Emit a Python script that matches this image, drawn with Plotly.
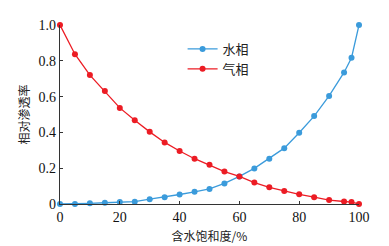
import plotly.graph_objects as go

sw = [0, 5, 10, 15, 20, 25, 30, 35, 40, 45, 50, 55, 60, 65, 70, 75, 80, 85, 90, 95, 97.5, 100]
krw = [0, 0, 0.004, 0.007, 0.011, 0.013, 0.027, 0.038, 0.053, 0.068, 0.084, 0.115, 0.154, 0.199, 0.253, 0.312, 0.398, 0.491, 0.604, 0.735, 0.817, 1.0]
krg = [1.0, 0.837, 0.72, 0.631, 0.537, 0.468, 0.403, 0.344, 0.296, 0.253, 0.219, 0.181, 0.154, 0.12, 0.093, 0.072, 0.054, 0.038, 0.022, 0.014, 0.011, 0.0]

blue = "#3b9bdb"
red = "#ec1c24"

fig = go.Figure()
fig.add_trace(go.Scatter(x=sw, y=krw, mode="lines+markers", name="水相",
                         line=dict(color=blue, width=1.3), marker=dict(color=blue, size=6),
                         cliponaxis=False))
fig.add_trace(go.Scatter(x=sw, y=krg, mode="lines+markers", name="气相",
                         line=dict(color=red, width=1.3), marker=dict(color=red, size=6),
                         cliponaxis=False))

serif = "Liberation Serif"
cjk = "Noto Sans CJK SC"
fig.update_layout(
    width=389, height=246,
    margin=dict(l=52, r=38, t=10, b=50),
    paper_bgcolor="white", plot_bgcolor="white",
    showlegend=True,
    legend=dict(x=0.41, y=0.95, xanchor="left", yanchor="top",
                font=dict(family=cjk, size=13, color="#222"),
                bgcolor="rgba(0,0,0,0)", itemwidth=30, tracegroupgap=0),
    xaxis=dict(range=[0, 100], tickvals=[0, 20, 40, 60, 80, 100],
               showgrid=False, zeroline=False, showline=True, linecolor="#333", linewidth=1.2,
               ticks="inside", ticklen=3, tickcolor="#333",
               tickfont=dict(family=serif, size=14, color="#111"),
               title=dict(text="含水饱和度/%", font=dict(family=cjk, size=12, color="#222"), standoff=8)),
    yaxis=dict(range=[0, 1], tickvals=[0, 0.2, 0.4, 0.6, 0.8, 1.0],
               ticktext=["0", "0.2", "0.4", "0.6", "0.8", "1.0"],
               showgrid=False, zeroline=False, showline=True, linecolor="#333", linewidth=1.2,
               ticks="inside", ticklen=3, tickcolor="#333",
               tickfont=dict(family=serif, size=14, color="#111"),
               title=dict(text="相对渗透率", font=dict(family=cjk, size=12, color="#222"), standoff=6)),
)
fig.write_html("out.html")
